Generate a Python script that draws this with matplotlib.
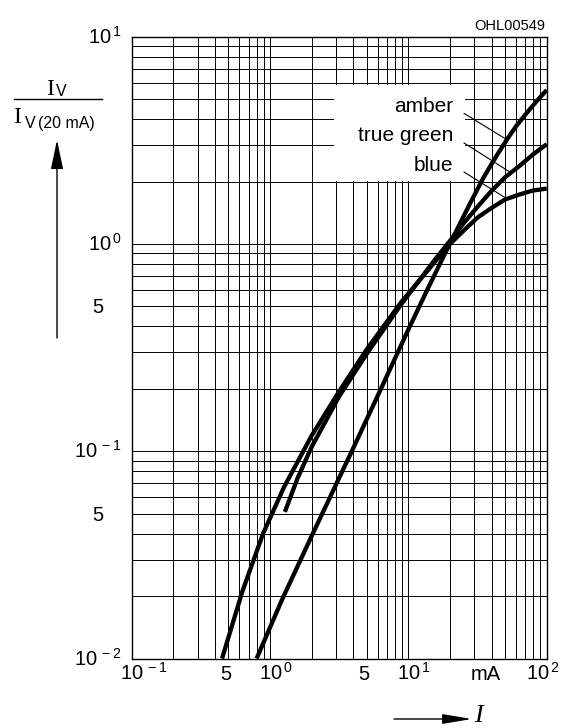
import matplotlib
matplotlib.use("Agg")
import matplotlib.pyplot as plt
from matplotlib.patches import Rectangle

plt.rcParams['font.family'] = ['Liberation Sans', 'DejaVu Sans']
plt.rcParams['mathtext.fontset'] = 'custom'
plt.rcParams['mathtext.rm'] = 'Liberation Sans'

# === data (forward current in mA, relative intensity) ===
amber_i = [0.80, 1.22, 2.0, 3.9, 6.0, 9.7, 14.0, 18.4, 23.7, 28.2, 34.8, 42.7, 51.4,
           60.3, 72, 85.1, 100]
amber_iv = [0.010, 0.0192, 0.039, 0.100, 0.185, 0.37, 0.62, 0.90, 1.26, 1.59, 2.08, 2.62,
            3.18, 3.71, 4.3, 4.91, 5.53]

green_i = [1.28, 1.58, 2.0, 3.16, 5.0, 8.9, 15.8, 20.0, 25.1, 31.6, 39.8, 50.1, 63.1,
           79.4, 100]
green_iv = [0.051, 0.074, 0.105, 0.184, 0.295, 0.513, 0.851, 1.035, 1.26, 1.51, 1.80,
            2.10, 2.37, 2.70, 3.03]

blue_i = [0.45, 0.63, 0.89, 1.26, 2.0, 3.2, 5.0, 8.9, 15.8, 20.0, 25.1, 31.6, 39.8, 50.1,
          63.1, 79.4, 100]
blue_iv = [0.010, 0.021, 0.040, 0.067, 0.119, 0.197, 0.31, 0.525, 0.83, 1.0, 1.16, 1.34,
           1.49, 1.64, 1.73, 1.81, 1.85]

x_decades = [0.1, 1, 10, 100]
x_exp = ["-1", "0", "1", "2"]
y_decades = [0.01, 0.1, 1, 10]
y_exp = ["-2", "-1", "0", "1"]
fives_x = [0.5, 5]
fives_y = [0.05, 0.5]

W, H = 575, 728
fig = plt.figure(figsize=(W / 100, H / 100), dpi=100)
ax = fig.add_axes([131.7 / W, 1 - 658.5 / H, 415 / W, 621.8 / H])
ax.set_xscale("log")
ax.set_yscale("log")
ax.set_xlim(0.1, 100)
ax.set_ylim(0.01, 10)

ax.set_axisbelow(True)
ax.grid(True, which="both", color="black", lw=0.7)
ax.tick_params(which="both", length=0, labelbottom=False, labelleft=False)
for s in ax.spines.values():
    s.set_linewidth(1.0)

# white box behind the curve names
ax.add_patch(Rectangle((2.9, 2.02), 25.7 - 2.9, 5.85 - 2.02, facecolor="white",
                       edgecolor="none", zorder=1))

for xs, ys in [(amber_i, amber_iv), (green_i, green_iv), (blue_i, blue_iv)]:
    ax.plot(xs, ys, color="black", lw=3.1, solid_capstyle="butt",
            solid_joinstyle="round", zorder=3)

# curve names with leader lines
names = ["amber", "true green", "blue"]
text_pos = [(21.0, 4.6), (21.0, 3.32), (21.0, 2.40)]
tips = [(51.8, 3.18), (54.4, 2.22), (51.8, 1.65)]
for name, tp, tip in zip(names, text_pos, tips):
    ax.annotate(name, xy=tip, xytext=tp, ha="right", va="center", fontsize=15, zorder=4,
                arrowprops=dict(arrowstyle="-", lw=0.8, color="black", shrinkA=7, shrinkB=0,
                                relpos=(1, 0.5)))

# tick labels
xt = ax.get_xaxis_transform()
for v, e in zip(x_decades, x_exp):
    dx = -14.8 if v == 100 else -8.1
    ax.annotate("10$^{\\,%s}$" % e, xy=(v, 0), xycoords=xt, xytext=(dx, -15.5),
                textcoords="offset points", ha="left", va="baseline", fontsize=14.5)
for v in fives_x:
    ax.annotate("5", xy=(v, 0), xycoords=xt, xytext=(-2, -15.5),
                textcoords="offset points", ha="center", va="baseline", fontsize=14.5)
ax.annotate("mA", xy=(36.5, 0), xycoords=xt, xytext=(0, -15.5),
            textcoords="offset points", ha="center", va="baseline", fontsize=14.5)

yt = ax.get_yaxis_transform()
for v, e in zip(y_decades, y_exp):
    ax.annotate("10$^{\\,%s}$" % e, xy=(0, v), xycoords=yt, xytext=(-7, -5),
                textcoords="offset points", ha="right", va="baseline", fontsize=14.5)
for v in fives_y:
    ax.annotate("5", xy=(0, v), xycoords=yt, xytext=(-20.7, -5),
                textcoords="offset points", ha="right", va="baseline", fontsize=14.5)


def fp(x, y):
    return (x / W, 1 - y / H)


fig.text(*fp(545, 30), "OHL00549", ha="right", va="baseline", fontsize=10.5)

# y axis label: I_V / I_V(20 mA) with arrow
fig.text(*fp(46, 95), "I", family="Liberation Serif", fontsize=17, ha="left", va="baseline")
fig.text(*fp(56, 96), "V", fontsize=11.5, ha="left", va="baseline")
fig.add_artist(plt.Line2D([14 / W, 102 / W], [1 - 99 / H, 1 - 99 / H], color="black", lw=1.0))
fig.text(*fp(13, 123), "I", family="Liberation Serif", fontsize=17, ha="left", va="baseline")
fig.text(*fp(25, 128), "V", fontsize=11.5, ha="left", va="baseline")
fig.text(*fp(38, 128), "(20 mA)", fontsize=11.5, ha="left", va="baseline")
ax.annotate("", xy=(57, H - 140), xycoords="figure pixels", xytext=(57, H - 338),
            textcoords="figure pixels",
            arrowprops=dict(arrowstyle="-|>,head_length=1.8,head_width=0.38", lw=1.0,
                            color="black", shrinkA=0, shrinkB=0))

# x axis label arrow + I
ax.annotate("", xy=(472, H - 719), xycoords="figure pixels", xytext=(394, H - 719),
            textcoords="figure pixels",
            arrowprops=dict(arrowstyle="-|>,head_length=1.8,head_width=0.3", lw=1.0,
                            color="black", shrinkA=0, shrinkB=0))
fig.text(*fp(474, 722), "I", family="Liberation Serif", style="italic", fontsize=19,
         ha="left", va="baseline")

fig.savefig("out.png", dpi=100)
